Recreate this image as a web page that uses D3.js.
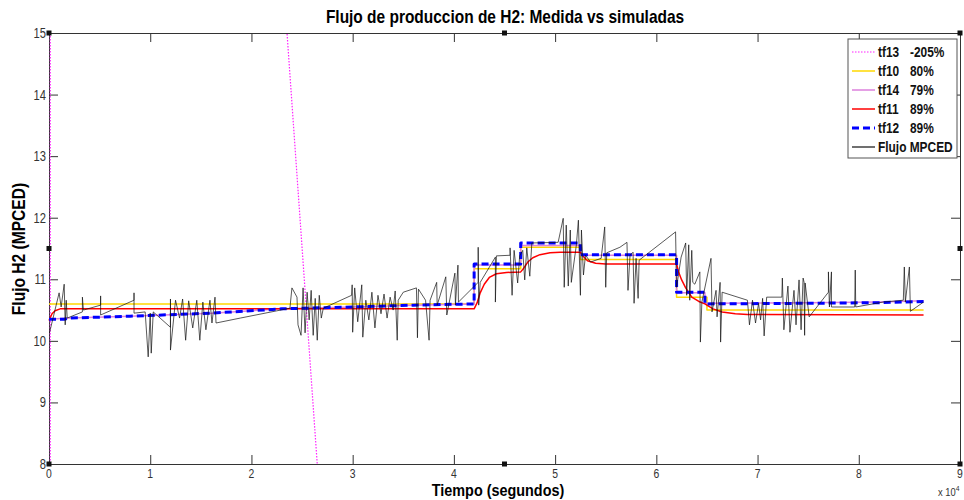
<!DOCTYPE html>
<html>
<head>
<meta charset="utf-8">
<script src="https://cdn.jsdelivr.net/npm/d3@7"></script>
<style>
  body { margin: 0; background: #fff; }
  svg { display: block; }
  text { font-family: "Liberation Sans", Arial, sans-serif; }
</style>
</head>
<body>
<svg id="chart" width="964" height="500"></svg>
<script>
// x values are in units of 1e4 seconds
const xTicks = [0, 1, 2, 3, 4, 5, 6, 7, 8, 9]
const yTicks = [8, 9, 10, 11, 12, 13, 14, 15]

const tf13T = [0.012, 0.014, 2.65, 3.2]
const tf13V = [-5, 69.8, 8, -4.8]

const tf10T = [0, 4.2, 4.2, 4.66, 4.66, 5.25, 5.25, 6.2, 6.2, 6.5, 6.5, 8.64]
const tf10V = [10.6, 10.6, 11.17, 11.17, 11.52, 11.52, 11.32, 11.32, 10.71, 10.71, 10.5, 10.5]

const tf14T = [0, 0.2, 0.8, 1.6, 2.3, 3.0, 3.6, 4.2, 4.2, 4.66, 4.66, 5.25, 5.25, 6.2, 6.2, 6.48, 6.48, 7.5, 8.2, 8.64]
const tf14V = [10.35, 10.37, 10.40, 10.45, 10.52, 10.55, 10.58, 10.60, 11.23, 11.23, 11.55, 11.55, 11.39, 11.39, 10.78, 10.78, 10.61, 10.62, 10.63, 10.65]

const tf11T = [0, 0.03, 0.06, 0.11, 4.2, 4.23, 4.26, 4.3, 4.35, 4.42, 4.52, 4.66, 4.69, 4.73, 4.78, 4.85, 4.95, 5.05, 5.25,
  5.28, 5.32, 5.4, 5.5, 6.2, 6.22, 6.25, 6.29, 6.35, 6.42, 6.48, 6.56, 6.65, 6.78, 6.9, 8.64]
const tf11V = [10.33, 10.44, 10.49, 10.52, 10.52, 10.62, 10.78, 10.92, 11.03, 11.09, 11.11, 11.12, 11.18, 11.28, 11.35, 11.40, 11.43, 11.44, 11.44,
  11.37, 11.30, 11.26, 11.25, 11.25, 11.12, 10.99, 10.86, 10.71, 10.64, 10.60, 10.52, 10.47, 10.44, 10.43, 10.42]

const tf12T = [0, 0.15, 0.2, 0.8, 1.6, 2.3, 3.0, 3.6, 4.2, 4.2, 4.66, 4.66, 5.25, 5.25, 6.2, 6.2, 6.48, 6.48, 7.5, 8.2, 8.64]
const tf12V = [10.35, 10.35, 10.37, 10.40, 10.45, 10.52, 10.55, 10.58, 10.60, 11.25, 11.25, 11.59, 11.59, 11.40, 11.40, 10.79, 10.79, 10.60, 10.61, 10.62, 10.64]

const flujoT = [0.005, 0.10, 0.12, 0.15, 0.16, 0.17, 0.18, 0.33, 0.33, 0.34, 0.51, 0.51, 0.51, 0.84, 0.84, 0.84, 0.95, 0.98, 1.00, 1.01,
  1.03, 1.20, 1.20, 1.20, 1.25, 1.29, 1.32, 1.35, 1.38, 1.42, 1.46, 1.49, 1.52, 1.55, 1.59, 1.61, 1.64, 1.65, 1.89, 2.38,
  2.40, 2.45, 2.46, 2.49, 2.51, 2.53, 2.55, 2.57, 2.59, 2.61, 2.63, 2.65, 2.67, 2.69, 2.71, 2.99, 2.995, 3.00, 3.02, 3.05,
  3.09, 3.10, 3.13, 3.16, 3.19, 3.22, 3.25, 3.28, 3.31, 3.34, 3.37, 3.40, 3.42, 3.44, 3.45, 3.50, 3.63, 3.64, 3.65, 3.72,
  3.755, 3.765, 3.83, 3.835, 3.92, 3.93, 4.01, 4.015, 4.04, 4.045, 4.24, 4.24, 4.245, 4.26, 4.41, 4.41, 4.42, 4.555, 4.555, 4.575,
  4.595, 4.63, 4.65, 4.68, 4.70, 4.72, 4.75, 4.77, 5.03, 5.08, 5.09, 5.11, 5.13, 5.15, 5.16, 5.21, 5.23, 5.25, 5.26, 5.28,
  5.30, 5.35, 5.455, 5.49, 5.50, 5.51, 5.64, 5.71, 5.72, 5.74, 5.77, 5.78, 5.80, 5.82, 5.83, 6.19, 6.20, 6.245, 6.29, 6.30,
  6.32, 6.33, 6.35, 6.36, 6.38, 6.43, 6.435, 6.45, 6.54, 6.55, 6.59, 6.60, 6.63, 6.635, 6.65, 6.90, 6.92, 6.95, 6.98, 7.01,
  7.03, 7.05, 7.065, 7.09, 7.24, 7.245, 7.26, 7.30, 7.32, 7.36, 7.38, 7.41, 7.43, 7.45, 7.46, 7.465, 7.47, 7.51, 7.70, 7.70,
  7.71, 7.73, 7.73, 7.96, 7.965, 7.97, 8.24, 8.44, 8.45, 8.46, 8.50, 8.51, 8.64]
const flujoV = [10.13, 10.78, 10.55, 10.92, 10.26, 10.66, 10.37, 10.47, 10.71, 10.50, 10.58, 10.73, 10.42, 10.66, 10.78, 10.45, 10.47, 9.74, 10.45, 9.80,
  10.47, 10.22, 10.68, 9.85, 10.66, 10.37, 10.68, 10.01, 10.65, 10.21, 10.66, 10.01, 10.63, 10.18, 10.66, 10.29, 10.71, 10.29, 10.37, 10.53,
  10.86, 10.71, 10.26, 10.09, 10.86, 10.13, 10.79, 10.34, 10.82, 10.09, 10.69, 10.01, 10.74, 10.37, 10.53, 10.74, 10.91, 10.14, 10.86, 10.31,
  10.91, 10.06, 10.66, 10.34, 10.79, 10.21, 10.74, 10.44, 10.76, 10.37, 10.71, 10.50, 10.81, 10.01, 10.66, 10.79, 10.86, 10.05, 10.84, 10.66,
  10.01, 10.66, 10.95, 10.58, 11.04, 10.42, 11.10, 10.58, 11.23, 10.63, 10.95, 11.52, 10.58, 10.95, 11.36, 10.63, 11.38, 11.39, 11.51, 10.74,
  11.47, 10.94, 11.38, 11.47, 10.99, 11.51, 11.05, 11.59, 11.60, 11.99, 10.87, 11.88, 10.89, 11.80, 10.95, 11.56, 11.96, 10.74, 11.80, 11.07,
  11.39, 11.28, 11.34, 11.85, 10.87, 11.43, 11.52, 11.60, 10.82, 11.39, 11.44, 10.61, 11.34, 10.69, 11.31, 11.77, 10.87, 11.36, 11.59, 10.74,
  11.56, 10.66, 11.47, 10.95, 10.92, 11.12, 9.98, 10.63, 11.34, 10.47, 10.82, 10.39, 10.95, 9.98, 10.79, 10.66, 10.26, 10.66, 10.29, 10.61,
  10.34, 10.69, 10.08, 10.71, 10.71, 11.02, 10.18, 10.89, 10.14, 10.82, 10.26, 10.99, 10.18, 11.02, 10.95, 10.09, 10.94, 10.39, 10.79, 11.12,
  10.55, 11.12, 10.55, 10.55, 11.15, 10.55, 10.63, 10.66, 11.20, 10.63, 11.20, 10.48, 10.63]

const legendNames = ['tf13', 'tf10', 'tf14', 'tf11', 'tf12', 'Flujo MPCED']
const legendFits = ['-205%', '80%', '79%', '89%', '89%', '']

const zip = (ts, vs) => ts.map((t, i) => [t, vs[i]])

const series = [
  { pts: zip(tf13T, tf13V), color: '#ff22ff', width: 1.2, dash: '1.5,1.5' },
  { pts: zip(tf10T, tf10V), color: '#ffd800', width: 1.5, dash: null },
  { pts: zip(tf14T, tf14V), color: '#dd80dd', width: 1.5, dash: null },
  { pts: zip(tf11T, tf11V), color: '#ff0000', width: 1.5, dash: null },
  { pts: zip(tf12T, tf12V), color: '#0000ff', width: 3, dash: '7,4' },
  { pts: zip(flujoT, flujoV), color: '#111', width: 0.7, dash: null }
]

const margin = { top: 33, right: 4, bottom: 36, left: 49 }
const W = 964, H = 500
const width = W - margin.left - margin.right
const height = H - margin.top - margin.bottom

const svg = d3.select('#chart')

const x = d3.scaleLinear().domain([0, 9]).range([0, width])
const y = d3.scaleLinear().domain([8, 15]).range([height, 0])

// text drawn a bit condensed, like the narrow font of the original
const narrowText = (parent, tx, ty, size, sx, str, opts = {}) => {
  const t = parent.append('text')
    .attr('transform', 'translate(' + tx + ',' + ty + ')' + (opts.rotate ? ' rotate(' + opts.rotate + ')' : '') + ' scale(' + sx + ',1)')
    .attr('font-size', size)
    .attr('font-weight', opts.bold ? 'bold' : 'normal')
    .attr('text-anchor', opts.anchor || 'start')
    .attr('fill', opts.fill || '#000')
    .text(str)
  return t
}

const g = svg.append('g')
  .attr('transform', 'translate(' + margin.left + ',' + margin.top + ')')

// clip to the axes box
g.append('clipPath').attr('id', 'clip')
  .append('rect').attr('x', -1).attr('width', width + 2).attr('height', height)

const line = d3.line().x(d => x(d[0])).y(d => y(d[1]))

// axes, ticks on all sides pointing inward
const tickLen = 9
const xAxis = d3.axisBottom(x).tickValues(xTicks).tickSizeInner(-tickLen).tickSizeOuter(0).tickFormat('')
const yAxis = d3.axisLeft(y).tickValues(yTicks).tickSizeInner(-tickLen).tickSizeOuter(0).tickFormat('')

const styleAxis = sel => {
  sel.select('.domain').attr('stroke', '#333')
  sel.selectAll('.tick line').attr('stroke', '#333')
}

g.append('g').attr('transform', 'translate(0,' + height + ')').call(xAxis).call(styleAxis)
g.append('g').call(yAxis).call(styleAxis)
g.append('g').call(d3.axisTop(x).tickValues(xTicks).tickSizeInner(-tickLen).tickSizeOuter(0).tickFormat(''))
  .call(styleAxis)
g.append('g').attr('transform', 'translate(' + width + ',0)')
  .call(d3.axisRight(y).tickValues(yTicks).tickSizeInner(-tickLen).tickSizeOuter(0).tickFormat(''))
  .call(styleAxis)

const plot = g.append('g').attr('clip-path', 'url(#clip)')
series.forEach(s => {
  plot.append('path')
    .datum(s.pts)
    .attr('d', line)
    .attr('fill', 'none')
    .attr('stroke', s.color)
    .attr('stroke-width', s.width)
    .attr('stroke-dasharray', s.dash)
    .attr('stroke-linejoin', 'round')
})

// tick labels
xTicks.forEach(v => narrowText(g, x(v), height + 14, 13, 0.8, String(v), { anchor: 'middle', fill: '#333' }))
yTicks.forEach(v => narrowText(g, -3, y(v) + 5, 14, 0.8, String(v), { anchor: 'end', fill: '#333' }))

// selection handles
const handles = [[0, 0], [0.5, 0], [1, 0], [0, 0.5], [1, 0.5], [0, 1], [0.5, 1], [1, 1]]
g.selectAll('.handle').data(handles).enter().append('rect')
  .attr('x', d => d[0] * width - 2.5)
  .attr('y', d => d[1] * height - 2.5)
  .attr('width', 5).attr('height', 5)
  .attr('fill', '#111')

// legend
const legend = g.append('g').attr('transform', 'translate(' + (848 - margin.left) + ',' + (39 - margin.top) + ')')
legend.append('rect')
  .attr('width', 109).attr('height', 119)
  .attr('fill', '#fff').attr('stroke', '#555').attr('stroke-width', 1)
legendNames.forEach((name, i) => {
  const ly = 13 + i * 19
  const s = series[i]
  legend.append('line')
    .attr('x1', 4).attr('x2', 27).attr('y1', ly).attr('y2', ly)
    .attr('stroke', s.color).attr('stroke-width', Math.max(s.width, 1.2))
    .attr('stroke-dasharray', s.dash)
  narrowText(legend, 30, ly + 5, 14, 0.85, name, { bold: true, fill: '#111' })
  if (legendFits[i]) narrowText(legend, 62, ly + 5, 14, 0.85, legendFits[i], { bold: true, fill: '#111' })
})

// titles
narrowText(svg, 505, 23, 18, 0.86, 'Flujo de produccion de H2: Medida vs simuladas', { bold: true, anchor: 'middle' })
narrowText(svg, 498, 495.5, 16, 0.9, 'Tiempo (segundos)', { bold: true, anchor: 'middle' })
narrowText(svg, 25, 249, 19, 0.82, 'Flujo H2 (MPCED)', { bold: true, anchor: 'middle', rotate: -90 })

const exp = narrowText(svg, 938, 496, 11, 0.85, '', { fill: '#333' })
exp.append('tspan').text('x 10')
exp.append('tspan').attr('dy', -5).attr('font-size', 8).text('4')
</script>
</body>
</html>
